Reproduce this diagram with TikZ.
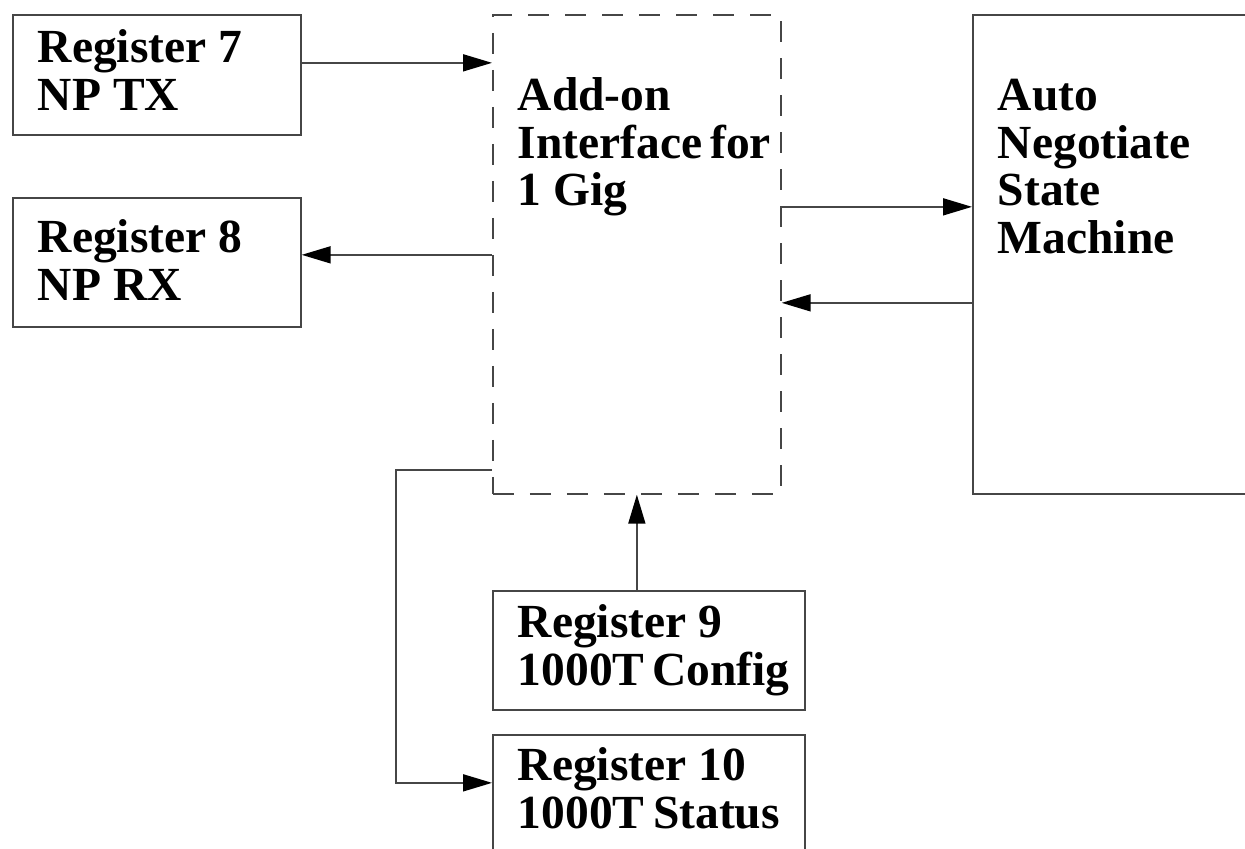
\documentclass[tikz,border=0pt]{standalone}
\usepackage{fontspec}
\setmainfont{Liberation Serif}
\usepackage{tikz}
\usetikzlibrary{arrows.meta}
\definecolor{linegray}{RGB}{70,70,70}
\hyphenpenalty=10000
\exhyphenpenalty=10000

\begin{document}
\begin{tikzpicture}[x=0.5pt, y=-0.5pt,
  box/.style={rectangle, draw=linegray, line width=0.85pt, anchor=north west,
              inner xsep=12.5pt, inner ysep=0pt, align=flush left,
              font=\fontsize{23.75pt}{23.75pt}\selectfont\bfseries},
  dbox/.style={box, dash pattern=on 10.5pt off 8pt},
  arr/.style={-{Triangle[length=14.5pt, width=8.5pt, black]}, line width=0.85pt, linegray},
]
  \useasboundingbox (0,0) rectangle (1245,849);
  \clip (0,0) rectangle (1245,849);

  \node[box, text width=119pt, text height=24pt, text depth=36pt] (reg7) at (12,14)
    {Register 7\\NP TX};
  \node[box, text width=119pt, text height=27.5pt, text depth=37pt] (reg8) at (12,197)
    {Register 8\\NP RX};

  \node[dbox, text width=119pt, text height=48pt, text depth=191.5pt] (ifc) at (492,14)
    {Add-on\\Interface~for\\1 Gig};
  \node[box, text width=120pt, text height=48pt, text depth=191.5pt] (auto) at (972,14)
    {Auto\\Negotiate\\State\\Machine};

  \node[box, text width=131pt, text height=23.5pt, text depth=36pt] (reg9) at (492,590)
    {Register 9\\1000T~Config};
  \node[box, text width=131pt, text height=23pt, text depth=38pt] (reg10) at (492,734)
    {Register 10\\1000T~Status};

  % NP registers
  \draw[arr] ([yshift=6pt]reg7.east) -- ([yshift=6pt]reg7.east -| ifc.west);
  \draw[arr] ([yshift=3.75pt]reg8.east -| ifc.west) -- ([yshift=3.75pt]reg8.east);

  % state machine
  \draw[arr] ([yshift=23.75pt]ifc.east) -- ([yshift=23.75pt]ifc.east -| auto.west);
  \draw[arr] ([yshift=-24.25pt]auto.west) -- ([yshift=-24.25pt]auto.west -| ifc.east);

  % 1000T registers
  \draw[arr] (ifc.south |- reg9.north) -- (ifc.south);
  \draw[arr] ([yshift=-107.75pt]ifc.west) -- ++(-96,0) |- ([yshift=6.5pt]reg10.west);
\end{tikzpicture}
\end{document}
